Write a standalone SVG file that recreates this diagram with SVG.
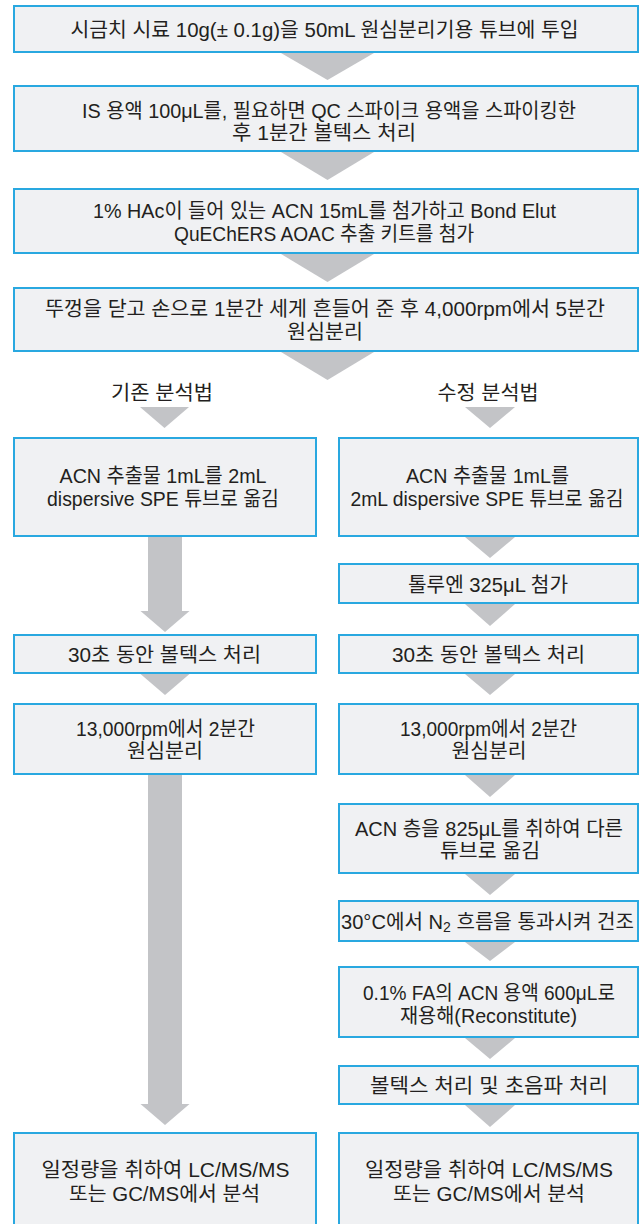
<svg xmlns="http://www.w3.org/2000/svg" width="642" height="1224" viewBox="0 0 642 1224">
<style>
.box{fill:#f0f1f3;stroke:#29a8e0;stroke-width:2}
.t{font-family:"Liberation Sans Narrow","Liberation Sans","Noto Sans CJK KR",sans-serif;font-size:20px;fill:#231f20;text-anchor:middle}
.s{font-family:"Liberation Sans","Noto Sans CJK KR",sans-serif;font-size:20px;fill:#231f20;text-anchor:start}
.ar{fill:#c3c4c7}
</style>
<rect width="642" height="1224" fill="#ffffff"/>
<g id="connectors">
<polygon class="ar" points="281,53 374,53 327.5,80"/>
<polygon class="ar" points="281,152 374,152 327.5,180"/>
<polygon class="ar" points="281,254 374,254 327.5,282"/>
<polygon class="ar" points="281,352 374,352 327.5,380"/>
<polygon class="ar" points="140,407 189,407 164.5,428"/>
<polygon class="ar" points="465,407 515,407 490,428"/>
<polygon class="ar" points="148,537 182,537 182,611 189.5,611 165,632 140.5,611 148,611"/>
<polygon class="ar" points="140.5,674 189.5,674 165,695"/>
<polygon class="ar" points="148,775 182,775 182,1104 189.5,1104 165,1125 140.5,1104 148,1104"/>
<polygon class="ar" points="465,537 515,537 490,558"/>
<polygon class="ar" points="465,604 515,604 490,626"/>
<polygon class="ar" points="465,674 515,674 490,695"/>
<polygon class="ar" points="465,775 515,775 490,797"/>
<polygon class="ar" points="465,874 515,874 490,895"/>
<polygon class="ar" points="465,942 515,942 490,961"/>
<polygon class="ar" points="465,1038 515,1038 490,1059"/>
<polygon class="ar" points="465,1105 515,1105 490,1127"/>
</g>
<g id="n1"><rect class="box" x="14" y="6" width="624" height="46"/>
<text class="t" x="324.5" y="36.5" textLength="508" lengthAdjust="spacingAndGlyphs">시금치 시료 10g(± 0.1g)을 50mL 원심분리기용 튜브에 투입</text></g>
<g id="n2"><rect class="box" x="14" y="86" width="624" height="65"/>
<text class="t" x="329" y="117.5" textLength="494" lengthAdjust="spacingAndGlyphs">IS 용액 100μL를, 필요하면 QC 스파이크 용액을 스파이킹한</text>
<text class="t" x="324" y="140" textLength="184" lengthAdjust="spacingAndGlyphs">후 1분간 볼텍스 처리</text></g>
<g id="n3"><rect class="box" x="14" y="189" width="624" height="64"/>
<text class="t" x="324.5" y="217.5" textLength="463" lengthAdjust="spacingAndGlyphs">1% HAc이 들어 있는 ACN 15mL를 첨가하고 Bond Elut</text>
<text class="t" x="324" y="240.5" textLength="300" lengthAdjust="spacingAndGlyphs">QuEChERS AOAC 추출 키트를 첨가</text></g>
<g id="n4"><rect class="box" x="14" y="288" width="624" height="63"/>
<text class="t" x="325" y="315.5" textLength="560" lengthAdjust="spacingAndGlyphs">뚜껑을 닫고 손으로 1분간 세게 흔들어 준 후 4,000rpm에서 5분간</text>
<text class="t" x="325" y="338.5" textLength="76" lengthAdjust="spacingAndGlyphs">원심분리</text></g>
<g id="label-left"><text class="t" x="162" y="399.5" textLength="102" lengthAdjust="spacingAndGlyphs">기존 분석법</text></g>
<g id="label-right"><text class="t" x="488" y="399.5" textLength="101" lengthAdjust="spacingAndGlyphs">수정 분석법</text></g>
<g id="a1"><rect class="box" x="14" y="438" width="302" height="98"/>
<text class="t" x="163" y="482.5" textLength="207" lengthAdjust="spacingAndGlyphs">ACN 추출물 1mL를 2mL</text>
<text class="t" x="163" y="505.5" textLength="232" lengthAdjust="spacingAndGlyphs">dispersive SPE 튜브로 옮김</text></g>
<g id="a2"><rect class="box" x="14" y="635" width="302" height="38"/>
<text class="t" x="164.5" y="661.5" textLength="193" lengthAdjust="spacingAndGlyphs">30초 동안 볼텍스 처리</text></g>
<g id="a3"><rect class="box" x="14" y="704" width="302" height="70"/>
<text class="t" x="165.5" y="735.5" textLength="179" lengthAdjust="spacingAndGlyphs">13,000rpm에서 2분간</text>
<text class="t" x="165" y="757.5" textLength="76" lengthAdjust="spacingAndGlyphs">원심분리</text></g>
<g id="a4"><rect class="box" x="14" y="1133" width="302" height="100"/>
<text class="t" x="165.5" y="1176.5" textLength="248" lengthAdjust="spacingAndGlyphs">일정량을 취하여 LC/MS/MS</text>
<text class="t" x="164.5" y="1200.5" textLength="191" lengthAdjust="spacingAndGlyphs">또는 GC/MS에서 분석</text></g>
<g id="b1"><rect class="box" x="339" y="438" width="299" height="98"/>
<text class="t" x="487.5" y="482.5" textLength="163" lengthAdjust="spacingAndGlyphs">ACN 추출물 1mL를</text>
<text class="t" x="487" y="505.5" font-size="19" textLength="273" lengthAdjust="spacingAndGlyphs">2mL dispersive SPE 튜브로 옮김</text></g>
<g id="b2"><rect class="box" x="339" y="564" width="299" height="39"/>
<text class="t" x="488" y="591.5" textLength="160" lengthAdjust="spacingAndGlyphs">톨루엔 325μL 첨가</text></g>
<g id="b3"><rect class="box" x="339" y="635" width="299" height="38"/>
<text class="t" x="488.5" y="661.5" textLength="193" lengthAdjust="spacingAndGlyphs">30초 동안 볼텍스 처리</text></g>
<g id="b4"><rect class="box" x="339" y="704" width="299" height="70"/>
<text class="t" x="488.5" y="735.5" textLength="177" lengthAdjust="spacingAndGlyphs">13,000rpm에서 2분간</text>
<text class="t" x="489" y="757.5" textLength="75" lengthAdjust="spacingAndGlyphs">원심분리</text></g>
<g id="b5"><rect class="box" x="339" y="804" width="299" height="69"/>
<text class="t" x="489" y="835.5" textLength="268" lengthAdjust="spacingAndGlyphs">ACN 층을 825μL를 취하여 다른</text>
<text class="t" x="490" y="857.5" textLength="100" lengthAdjust="spacingAndGlyphs">튜브로 옮김</text></g>
<g id="b6"><rect class="box" x="339" y="901" width="299" height="40"/>
<text class="s" transform="translate(341,928.5) scale(1.005,1)" x="0" y="0">30°C에서 N<tspan font-size="14" baseline-shift="-4">2</tspan> 흐름을 통과시켜 건조</text></g>
<g id="b7"><rect class="box" x="339" y="967" width="299" height="70"/>
<text class="t" x="489" y="999.5" textLength="252" lengthAdjust="spacingAndGlyphs">0.1% FA의 ACN 용액 600μL로</text>
<text class="t" x="488.5" y="1022.5" textLength="177" lengthAdjust="spacingAndGlyphs">재용해(Reconstitute)</text></g>
<g id="b8"><rect class="box" x="339" y="1066" width="299" height="38"/>
<text class="t" x="489" y="1092.5" textLength="238" lengthAdjust="spacingAndGlyphs">볼텍스 처리 및 초음파 처리</text></g>
<g id="b9"><rect class="box" x="339" y="1133" width="299" height="100"/>
<text class="t" x="489" y="1176.5" textLength="248" lengthAdjust="spacingAndGlyphs">일정량을 취하여 LC/MS/MS</text>
<text class="t" x="489" y="1200.5" textLength="192" lengthAdjust="spacingAndGlyphs">또는 GC/MS에서 분석</text></g>
</svg>
